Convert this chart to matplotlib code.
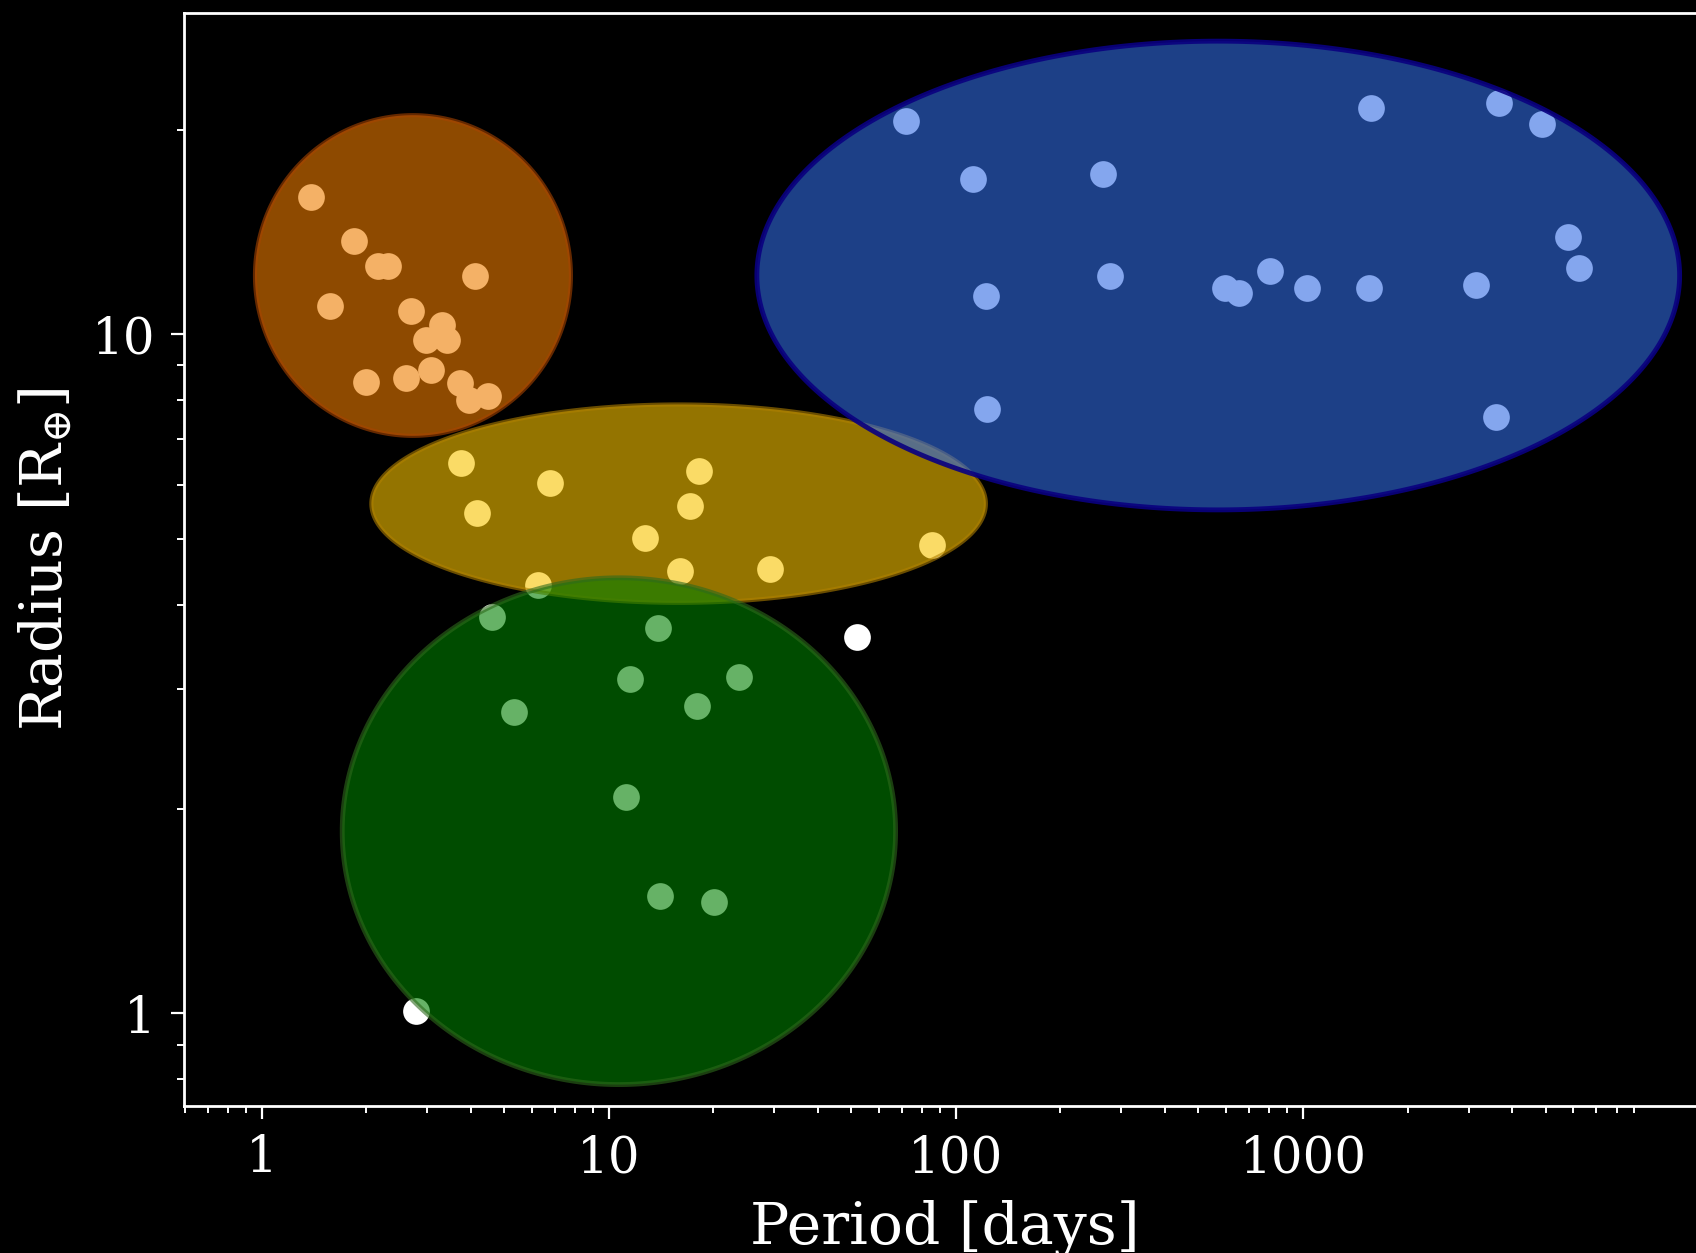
import numpy as np
import matplotlib
matplotlib.use("Agg")
import matplotlib.pyplot as plt
from matplotlib.colors import to_rgba

plt.rcParams["font.family"] = ["DejaVu Serif"]
plt.rcParams["mathtext.fontset"] = "dejavuserif"

# planets, grouped by population (period in days, radius in Earth radii)
hot_jup_period = [1.39, 1.85, 2.16, 2.32, 4.13, 1.57, 2.70, 3.32, 2.98, 3.42,
                  2.00, 2.61, 3.07, 3.72, 3.96, 4.49]
hot_jup_radius = [15.9, 13.7, 12.6, 12.6, 12.2, 11.0, 10.8, 10.3, 9.79, 9.81,
                  8.51, 8.61, 8.85, 8.47, 8.00, 8.12]

neptune_period = [3.75, 6.79, 4.18, 18.2, 17.1, 12.7, 16.1, 29.2, 85.6, 6.24]
neptune_radius = [6.46, 6.03, 5.46, 6.29, 5.58, 5.01, 4.48, 4.51, 4.90, 4.28]

super_earth_period = [4.61, 13.9, 11.5, 23.8, 5.34, 18.0, 11.2, 14.1, 20.1]
super_earth_radius = [3.84, 3.70, 3.11, 3.13, 2.78, 2.84, 2.08, 1.49, 1.46]

cold_jup_period = [71.9, 1574, 3671, 4894, 112, 266, 5815, 6248, 278, 803,
                   598, 656, 1024, 1552, 3148, 122, 123, 3608]
cold_jup_radius = [20.6, 21.5, 21.9, 20.4, 16.9, 17.2, 13.9, 12.5, 12.2, 12.4,
                   11.7, 11.5, 11.7, 11.7, 11.8, 11.4, 7.77, 7.54]

other_period = [2.79, 51.9]
other_radius = [1.01, 3.58]

# population regions: centre (period, radius) and half-axes in dex
region_names = ["hot jupiters", "neptunes", "super-earths", "cold jupiters"]
region_period = [2.73, 15.9, 10.7, 570]
region_radius = [12.2, 5.63, 1.855, 12.2]
region_dx = [0.455, 0.885, 0.797, 1.329]
region_dy = [0.236, 0.146, 0.373, 0.345]
region_face = ["#EE7D00", "#F8C300", "#008000", "#326BE3"]
region_edge = ["#A84400", "#B08000", "#2E6A1C", "#0A0080"]
region_edge_alpha = [0.6, 0.6, 0.6, 0.9]
region_lw = [3, 3, 3.5, 3.5]

fig = plt.figure(figsize=(16.96, 12.53), dpi=100, facecolor="black")
ax = fig.add_axes([0.1085, 0.1177, 0.8975, 0.8719], facecolor="black")

all_p = hot_jup_period + neptune_period + super_earth_period + cold_jup_period + other_period
all_r = hot_jup_radius + neptune_radius + super_earth_radius + cold_jup_radius + other_radius
ax.scatter(all_p, all_r, s=370, color="white", linewidths=0, zorder=1)

t = np.linspace(0, 2 * np.pi, 400)
for p, r, dx, dy, fc, ec, ea, lw in zip(region_period, region_radius, region_dx,
                                        region_dy, region_face, region_edge,
                                        region_edge_alpha, region_lw):
    xs = 10 ** (np.log10(p) + dx * np.cos(t))
    ys = 10 ** (np.log10(r) + dy * np.sin(t))
    ax.fill(xs, ys, facecolor=to_rgba(fc, 0.6), edgecolor=to_rgba(ec, ea),
            lw=lw, zorder=2)

ax.set_xscale("log")
ax.set_yscale("log")
ax.set_xlim(0.598, 14500)
ax.set_ylim(0.732, 29.7)
ax.set_xticks([1, 10, 100, 1000])
ax.set_xticklabels(["1", "10", "100", "1000"])
ax.set_yticks([1, 10])
ax.set_yticklabels(["1", "10"])

ax.tick_params(which="major", length=9.5, width=1.6, pad=11, colors="white",
               labelsize=36)
ax.tick_params(which="minor", length=5, width=1.4, colors="white")
for side in ["left", "top", "bottom", "right"]:
    ax.spines[side].set_color("white")
    ax.spines[side].set_linewidth(2)

ax.set_xlabel("Period [days]", fontsize=42, color="white", labelpad=12)
ax.set_ylabel(r"Radius [R$_{\oplus}$]", fontsize=42, color="white")
ax.yaxis.set_label_coords(-0.072, 0.5)

fig.savefig("out.png", dpi=100, facecolor="black")
